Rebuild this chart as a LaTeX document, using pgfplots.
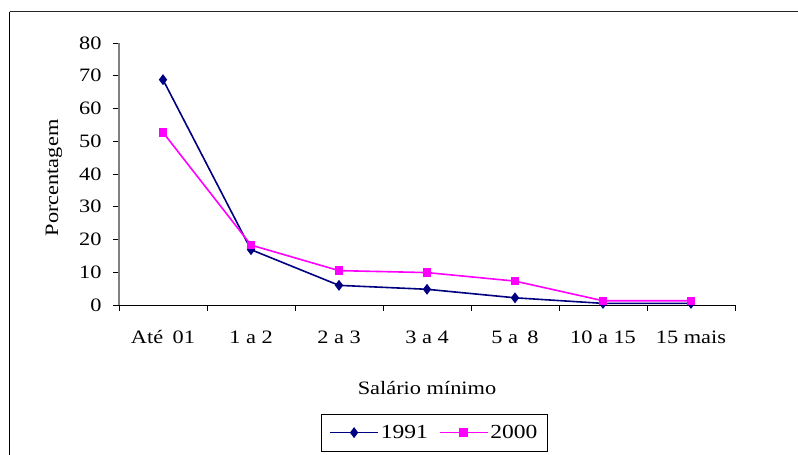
\documentclass[border=0pt]{standalone}
\usepackage{fontspec}
\setmainfont{Liberation Serif}[FakeStretch=1.18]
\usepackage{pgfplots}
\pgfplotsset{compat=1.18}
\definecolor{navyc}{RGB}{0,0,128}
\definecolor{magc}{RGB}{255,0,255}
\begin{document}
\begin{tikzpicture}
\path[use as bounding box] (0,0) rectangle (798bp,-455bp);
\draw[line width=1.8bp,black!85] (9.5bp,-11.5bp) -- (798bp,-11.5bp);
\draw[line width=1.3bp] (9.5bp,-11.5bp) -- (9.5bp,-455bp);
\begin{axis}[
  at={(119bp,-305bp)}, anchor=south west,
  scale only axis, width=616bp, height=262bp,
  xmin=-0.5, xmax=6.5, ymin=0, ymax=80,
  axis lines*=left,
  x axis line style={black, line width=1bp},
  y axis line style={gray, line width=1.5bp},
  xtick={0,...,6},
  xticklabels={Até\enspace01, 1 a 2, 2 a 3, 3 a 4, 5 a\enspace8, 10 a 15, 15 mais},
  major x tick style={draw=none},
  minor xtick={-0.5,0.5,...,6.5},
  minor x tick style={black, line width=0.8bp},
  minor tick length=6bp,
  ytick={0,10,...,80},
  major tick length=6bp,
  y tick style={black, line width=0.8bp},
  tick align=outside,
  /pgf/number format/assume math mode=true,
  tick label style={font=\fontsize{19}{21}\selectfont},
  xticklabel style={yshift=-16bp},
  yticklabel style={xshift=-8bp},
  xlabel={Salário mínimo},
  ylabel={Porcentagem},
  label style={font=\fontsize{19}{21}\selectfont},
  xlabel style={at={(axis description cs:0.5,-0.317)}, anchor=center},
  ylabel style={at={(axis description cs:-0.1055,0.485)}, anchor=center},
  legend columns=2,
  legend style={at={(axis description cs:0.512,-0.487)}, anchor=center,
    draw=black, line width=0.8bp, font=\fontsize{20}{22}\selectfont,
    inner xsep=8bp, inner ysep=9bp,
    /tikz/every even column/.append style={column sep=9bp}},
  legend image code/.code={\draw[mark repeat=2,mark phase=2] plot coordinates {(0bp,0bp)(24bp,0bp)(48bp,0bp)};},
]
\addplot[navyc, line width=1.6bp, mark=diamond*, mark size=4.2bp, mark options={solid, fill=navyc}]
  coordinates {(0,68.8) (1,16.9) (2,6.0) (3,4.8) (4,2.2) (5,0.5) (6,0.5)};
\addlegendentry{1991}
\addplot[magc, line width=1.6bp, mark=square*, mark size=3.4bp, mark options={solid, fill=magc}]
  coordinates {(0,52.7) (1,18.3) (2,10.5) (3,9.9) (4,7.3) (5,1.3) (6,1.3)};
\addlegendentry{2000}
\end{axis}
\end{tikzpicture}
\end{document}
